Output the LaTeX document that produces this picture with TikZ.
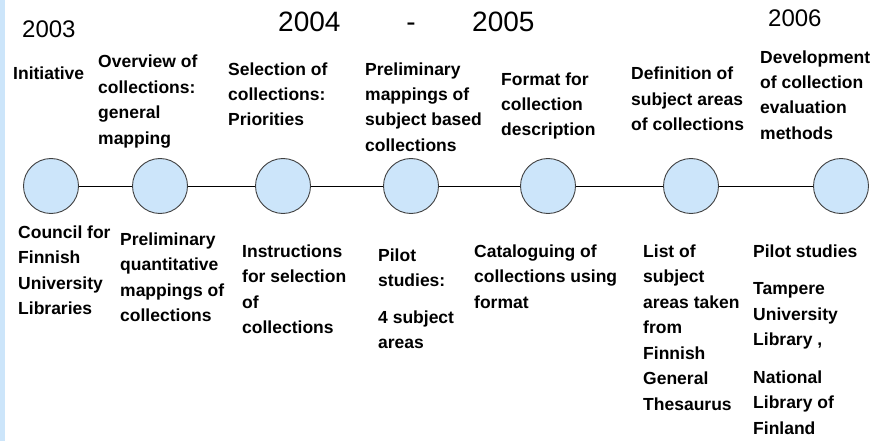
\documentclass[tikz,border=0pt]{standalone}
\usepackage{fontspec}
\setmainfont{Liberation Sans}
\definecolor{lightblue}{RGB}{204,229,250}
\definecolor{rimgrey}{RGB}{64,64,64}

\begin{document}
\begin{tikzpicture}[x=1pt,y=-1pt,
    stage/.style={circle,draw=rimgrey,fill=lightblue,line width=0.9pt,minimum size=55pt,inner sep=0pt},
    label/.style={anchor=base west,inner sep=0pt,align=left,font=\fontsize{17.5}{25.5}\selectfont\bfseries},
    year/.style={anchor=base west,inner sep=0pt,font=\fontsize{24}{28}\selectfont},
    bigyear/.style={anchor=base west,inner sep=0pt,font=\fontsize{28}{32}\selectfont}]
        % border
        \useasboundingbox (0,0) rectangle (873,441);
        \fill[lightblue] (0,0) rectangle (5,441);
        % years
        \node[year]    (y2003) at (22,38)  {2003};
        \node[bigyear] (y2004) at (278,32) {2004};
        \node[bigyear,anchor=base] (dash) at (411,32) {-};
        \node[bigyear] (y2005) at (472,32) {2005};
        \node[year]    (y2006) at (768,27) {2006};
        % stages on the time line
        \node[stage] (s1) at (51,186)  {};
        \node[stage] (s2) at (160,186) {};
        \node[stage] (s3) at (283,186) {};
        \node[stage] (s4) at (411,186) {};
        \node[stage] (s5) at (548,186) {};
        \node[stage] (s6) at (691,186) {};
        \node[stage] (s7) at (841,186) {};
        \draw[line width=0.8pt] (s1) -- (s2) (s2) -- (s3) (s3) -- (s4)
            (s4) -- (s5) (s5) -- (s6) (s6) -- (s7);
        % labels above (placed at the baseline of their last line)
        \node[label] (initiative) at (13,80)    {Initiative};
        \node[label] (overview)   at (98,144.5) {Overview of\\collections:\\general\\mapping};
        \node[label] (selection)  at (228,126)  {Selection of\\collections:\\Priorities};
        \node[label] (prelimmap)  at (365,151.5) {Preliminary\\mappings of\\subject based\\collections};
        \node[label] (format)     at (501,136)  {Format for\\collection\\description};
        \node[label] (definition) at (631,131)  {Definition of\\subject areas\\of collections};
        \node[label] (develop)    at (760,139.5) {Development\\of collection\\evaluation\\methods};
        % labels below
        \node[label] (council)      at (18,314.5)  {Council for\\Finnish\\University\\Libraries};
        \node[label] (quantitative) at (120,321.5) {Preliminary\\quantitative\\mappings of\\collections};
        \node[label] (instructions) at (242,333.5) {Instructions\\for selection\\of\\collections};
        \node[label] (pilot)        at (378,348.5) {Pilot\\studies:\\[11pt]4 subject\\areas};
        \node[label] (catalogue)    at (474,308)   {Cataloguing of\\collections using\\format};
        \node[label] (subjectlist)  at (643,410)   {List of\\subject\\areas taken\\from\\Finnish\\General\\Thesaurus};
        \node[label] (pilotlib)     at (753,434)   {Pilot studies\\[12pt]Tampere\\University\\Library ,\\[12pt]National\\Library of\\Finland};
\end{tikzpicture}
\end{document}
